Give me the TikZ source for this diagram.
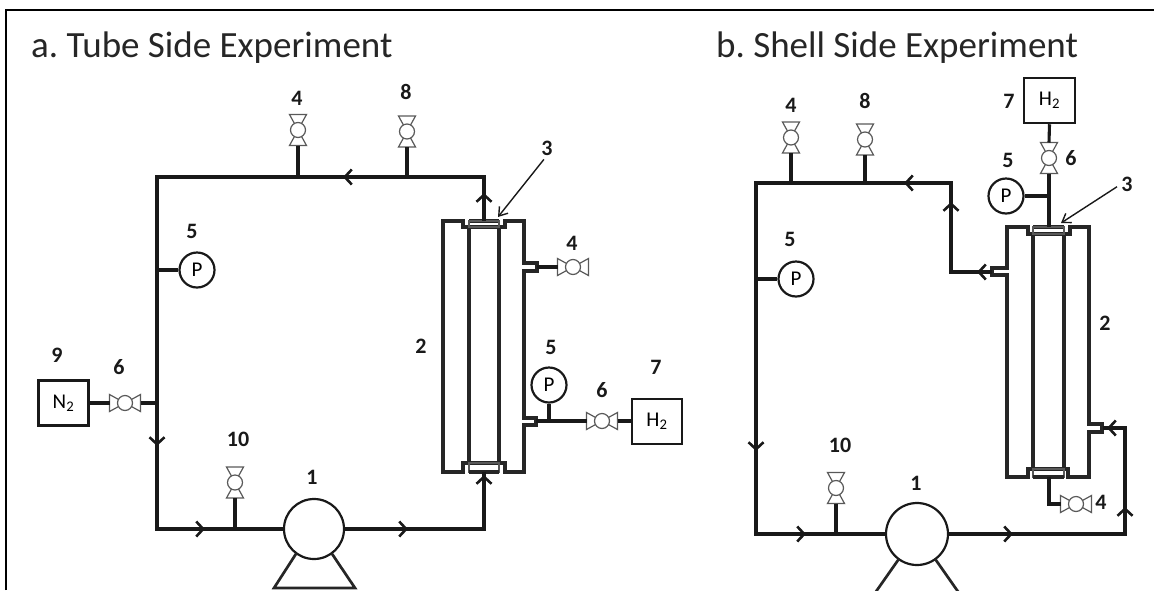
\documentclass[tikz,border=0pt]{standalone}
\usepackage{fontspec}
\usepackage{tikz}
\setmainfont{Carlito}
\usetikzlibrary{arrows.meta,decorations.markings}
\tikzset{
  pipe/.style={line width=3.1pt,black!90},
  thinline/.style={line width=3.1pt,black!85},
  legline/.style={line width=2.7pt,black!85},
  flow/.style={postaction={decorate,decoration={markings,
    mark=at position #1 with {\arrow[line width=2.6pt]{Straight Barb[length=7pt,width=15pt]}}}}},
  valvebox/.style={rectangle,minimum width=31pt,minimum height=17pt,inner sep=0pt,outer sep=0pt},
  valveline/.style={line width=1.2pt,black!65},
  valvedisc/.style={circle,draw=black!65,line width=1.2pt,fill=white,minimum size=15pt,inner sep=0pt},
  gauge/.style={circle,draw=black!90,line width=2.2pt,fill=white,minimum size=35pt,inner sep=0pt,font=\fontsize{21}{21}\selectfont},
  tank/.style={rectangle,draw=black!90,line width=2.5pt,minimum width=50pt,minimum height=45pt,inner sep=0pt,font=\fontsize{21}{21}\selectfont},
  pumpdisc/.style={circle,draw=black!90,line width=2.2pt,fill=white,minimum size=60pt,inner sep=0pt,outer sep=0pt},
  num/.style={font=\fontsize{22}{22}\selectfont\bfseries,text=black!90,inner sep=0pt},
  heading/.style={font=\fontsize{37}{37}\selectfont\frenchspacing,text=black!85,anchor=base west,inner sep=0pt},
  callout/.style={line width=1.4pt,black!90,shorten <=5pt,-{Straight Barb[length=8pt,width=11pt]}},
}
\begin{document}
\begin{tikzpicture}[x=1pt,y=-1pt]
  \useasboundingbox (0,0) rectangle (1154,590);
  \draw[line width=1.6pt] (6,590) -- (6,10) -- (1154,10);
  \node[heading] (titlea) at (31,57) {a. Tube Side Experiment};
  \node[heading] (titleb) at (716,57) {b. Shell Side Experiment};

  % numbers
  \foreach \n/\t/\x/\y in {
    la1/1/312/477,la2/2/421/346,la3/3/547/148,la4/4/297/98,la4s/4/572/243,la5/5/192/231,la5s/5/551/347,
    la6/6/119/367,la6s/6/602/390,la7/7/656/367,la8/8/406/92,la9/9/57/355,la10/10/238/439,
    lb1/1/916/483,lb2/2/1105/323,lb3/3/1127/184,lb4/4/791/105,lb4s/4/1101/502,lb5/5/790/239,lb5s/5/1008/160,
    lb6/6/1071/158,lb7/7/1009/101,lb8/8/865/101,lb10/10/840/445}{
    \node[num] (\n) at (\x,\y) {\t};
  }

  % valves
  \foreach \n/\x/\y/\a in {
    va4/298/130/90,va8/407/131.5/90,va4s/573/267/0,va6/125/403/0,va6s/602/421/0,va10/235/482.5/90,
    vb4/791/137.5/90,vb8/865/139.5/90,vb6/1049/158/90,vb10/836/488/90,vb4s/1076/504/0}{
    \node[valvebox,rotate=\a] (\n) at (\x,\y) {};
    \draw[valveline] (\n.north west) -- (\n.south west) -- (\n.north east) -- (\n.south east) -- cycle;
    \node[valvedisc] (\n-d) at (\x,\y) {};
  }

  % tube side
  \node[pumpdisc] (pumpa) at (314,529) {};
  \node[gauge] (pa) at (197,270) {P};
  \node[gauge] (pas) at (549,385) {P};
  \node[tank] (na) at (63.5,403) {N\textsubscript{2}};
  \node[tank] (ha) at (657,421.5) {H\textsubscript{2}};
  \draw[legline] (pumpa.234) -- (274,588) -- (355,588) -- (pumpa.306);

  \draw[thinline] (463,221) -- (443,221) -- (443,472) -- (463,472) -- (463,463) -- (505,463) -- (505,472)
    -- (524,472) -- (524,425) -- (536,425) -- (536,418) -- (524,418) -- (524,271) -- (537,271)
    -- (537,263) -- (524,263) -- (524,221) -- (505,221) -- (505,227) -- (463,227) -- cycle;
  \draw[thinline] (469,221) -- (499,221);
  \draw[thinline] (469,227) -- (469,463);
  \draw[thinline] (499,227) -- (499,463);
  \draw[valveline] (469,221) rectangle (499,227);
  \draw[valveline] (469,463) rectangle (499,472);
  \draw[thinline] (469,472) -- (499,472);

  \coordinate (outa) at (484,221);
  \coordinate (ina) at (484,472);
  \coordinate (porta) at (537,267);
  \coordinate (portb) at (536,421);
  \coordinate (tipa) at (498,217);
  \coordinate (cornera) at (484,177);
  \coordinate (cornerb) at (157,177);
  \coordinate (cornerc) at (157,529);
  \coordinate (cornerd) at (484,529);

  \draw[pipe,flow=28pt,flow=185pt,flow=640pt,flow=771pt] (outa) -- (cornera) -- (cornerb) -- (cornerc) -- (pumpa.west);
  \draw[pipe,flow=64pt,flow=194pt] (pumpa.east) -- (cornerd) -- (ina);
  \draw[pipe] (va4.west) -- (va4.west |- cornera);
  \draw[pipe] (va8.west) -- (va8.west |- cornera);
  \draw[pipe] (pa.west) -- (pa.west -| cornerb);
  \draw[pipe] (na.east) -- (va6.west);
  \draw[pipe] (va6.east) -- (va6.east -| cornerb);
  \draw[pipe] (va10.west) -- (va10.west |- cornerc);
  \draw[pipe] (porta) -- (va4s.west);
  \draw[pipe] (portb) -- (va6s.west);
  \draw[pipe] (va6s.east) -- (ha.west |- va6s.east);
  \draw[pipe] (pas.south) -- (pas.south |- portb);
  \draw[callout] (la3.south) -- (tipa);

  % shell side
  \node[pumpdisc,minimum size=62pt] (pumpb) at (917,534) {};
  \node[gauge] (pb) at (796,279) {P};
  \node[gauge] (pbs) at (1006,196) {P};
  \node[tank,minimum width=51pt] (hb) at (1049.5,100.5) {H\textsubscript{2}};
  \draw[legline] (pumpb.234) -- (875,593);
  \draw[legline] (pumpb.306) -- (959,593);

  \draw[thinline] (1028,227) -- (1007,227) -- (1007,268) -- (992,268) -- (992,275) -- (1007,275) -- (1007,477)
    -- (1028,477) -- (1028,469) -- (1068,469) -- (1068,477) -- (1089,477) -- (1089,432) -- (1102,432)
    -- (1102,424) -- (1089,424) -- (1089,227) -- (1070,227) -- (1070,234) -- (1028,234) -- cycle;
  \draw[thinline] (1033,227) -- (1064,227);
  \draw[thinline] (1033,234) -- (1033,469);
  \draw[thinline] (1064,234) -- (1064,469);
  \draw[valveline] (1033,227) rectangle (1064,234);
  \draw[valveline] (1033,469) rectangle (1064,477);
  \draw[thinline] (1033,477) -- (1064,477);

  \coordinate (shellout) at (992,272);
  \coordinate (shellin) at (1103,428);
  \coordinate (capb) at (1049,227);
  \coordinate (drainb) at (1049,477);
  \coordinate (tipb) at (1061,223);
  \coordinate (cornere) at (951,272);
  \coordinate (cornerf) at (951,183);
  \coordinate (cornerg) at (756,183);
  \coordinate (cornerh) at (756,534);
  \coordinate (corneri) at (1125,534);
  \coordinate (cornerj) at (1125,428);
  \coordinate (cornerk) at (1049,504);

  \draw[pipe,flow=15pt,flow=111pt,flow=177pt,flow=593pt,flow=726pt] (shellout) -- (cornere) -- (cornerf) -- (cornerg) -- (cornerh) -- (pumpb.west);
  \draw[pipe,flow=65pt,flow=204pt,flow=301pt] (pumpb.east) -- (corneri) -- (cornerj) -- (shellin);
  \draw[pipe] (vb4.west) -- (vb4.west |- cornerf);
  \draw[pipe] (vb8.west) -- (vb8.west |- cornerf);
  \draw[pipe] (pb.west) -- (pb.west -| cornerg);
  \draw[pipe] (vb10.west) -- (vb10.west |- cornerh);
  \draw[pipe] (hb.south) -- (vb6.east);
  \draw[pipe] (vb6.west) -- (capb);
  \draw[pipe] (pbs.east) -- (pbs.east -| capb);
  \draw[pipe] (drainb) -- (cornerk) -- (vb4s.west);
  \draw[callout] (lb3.west) -- (tipb);
\end{tikzpicture}
\end{document}
